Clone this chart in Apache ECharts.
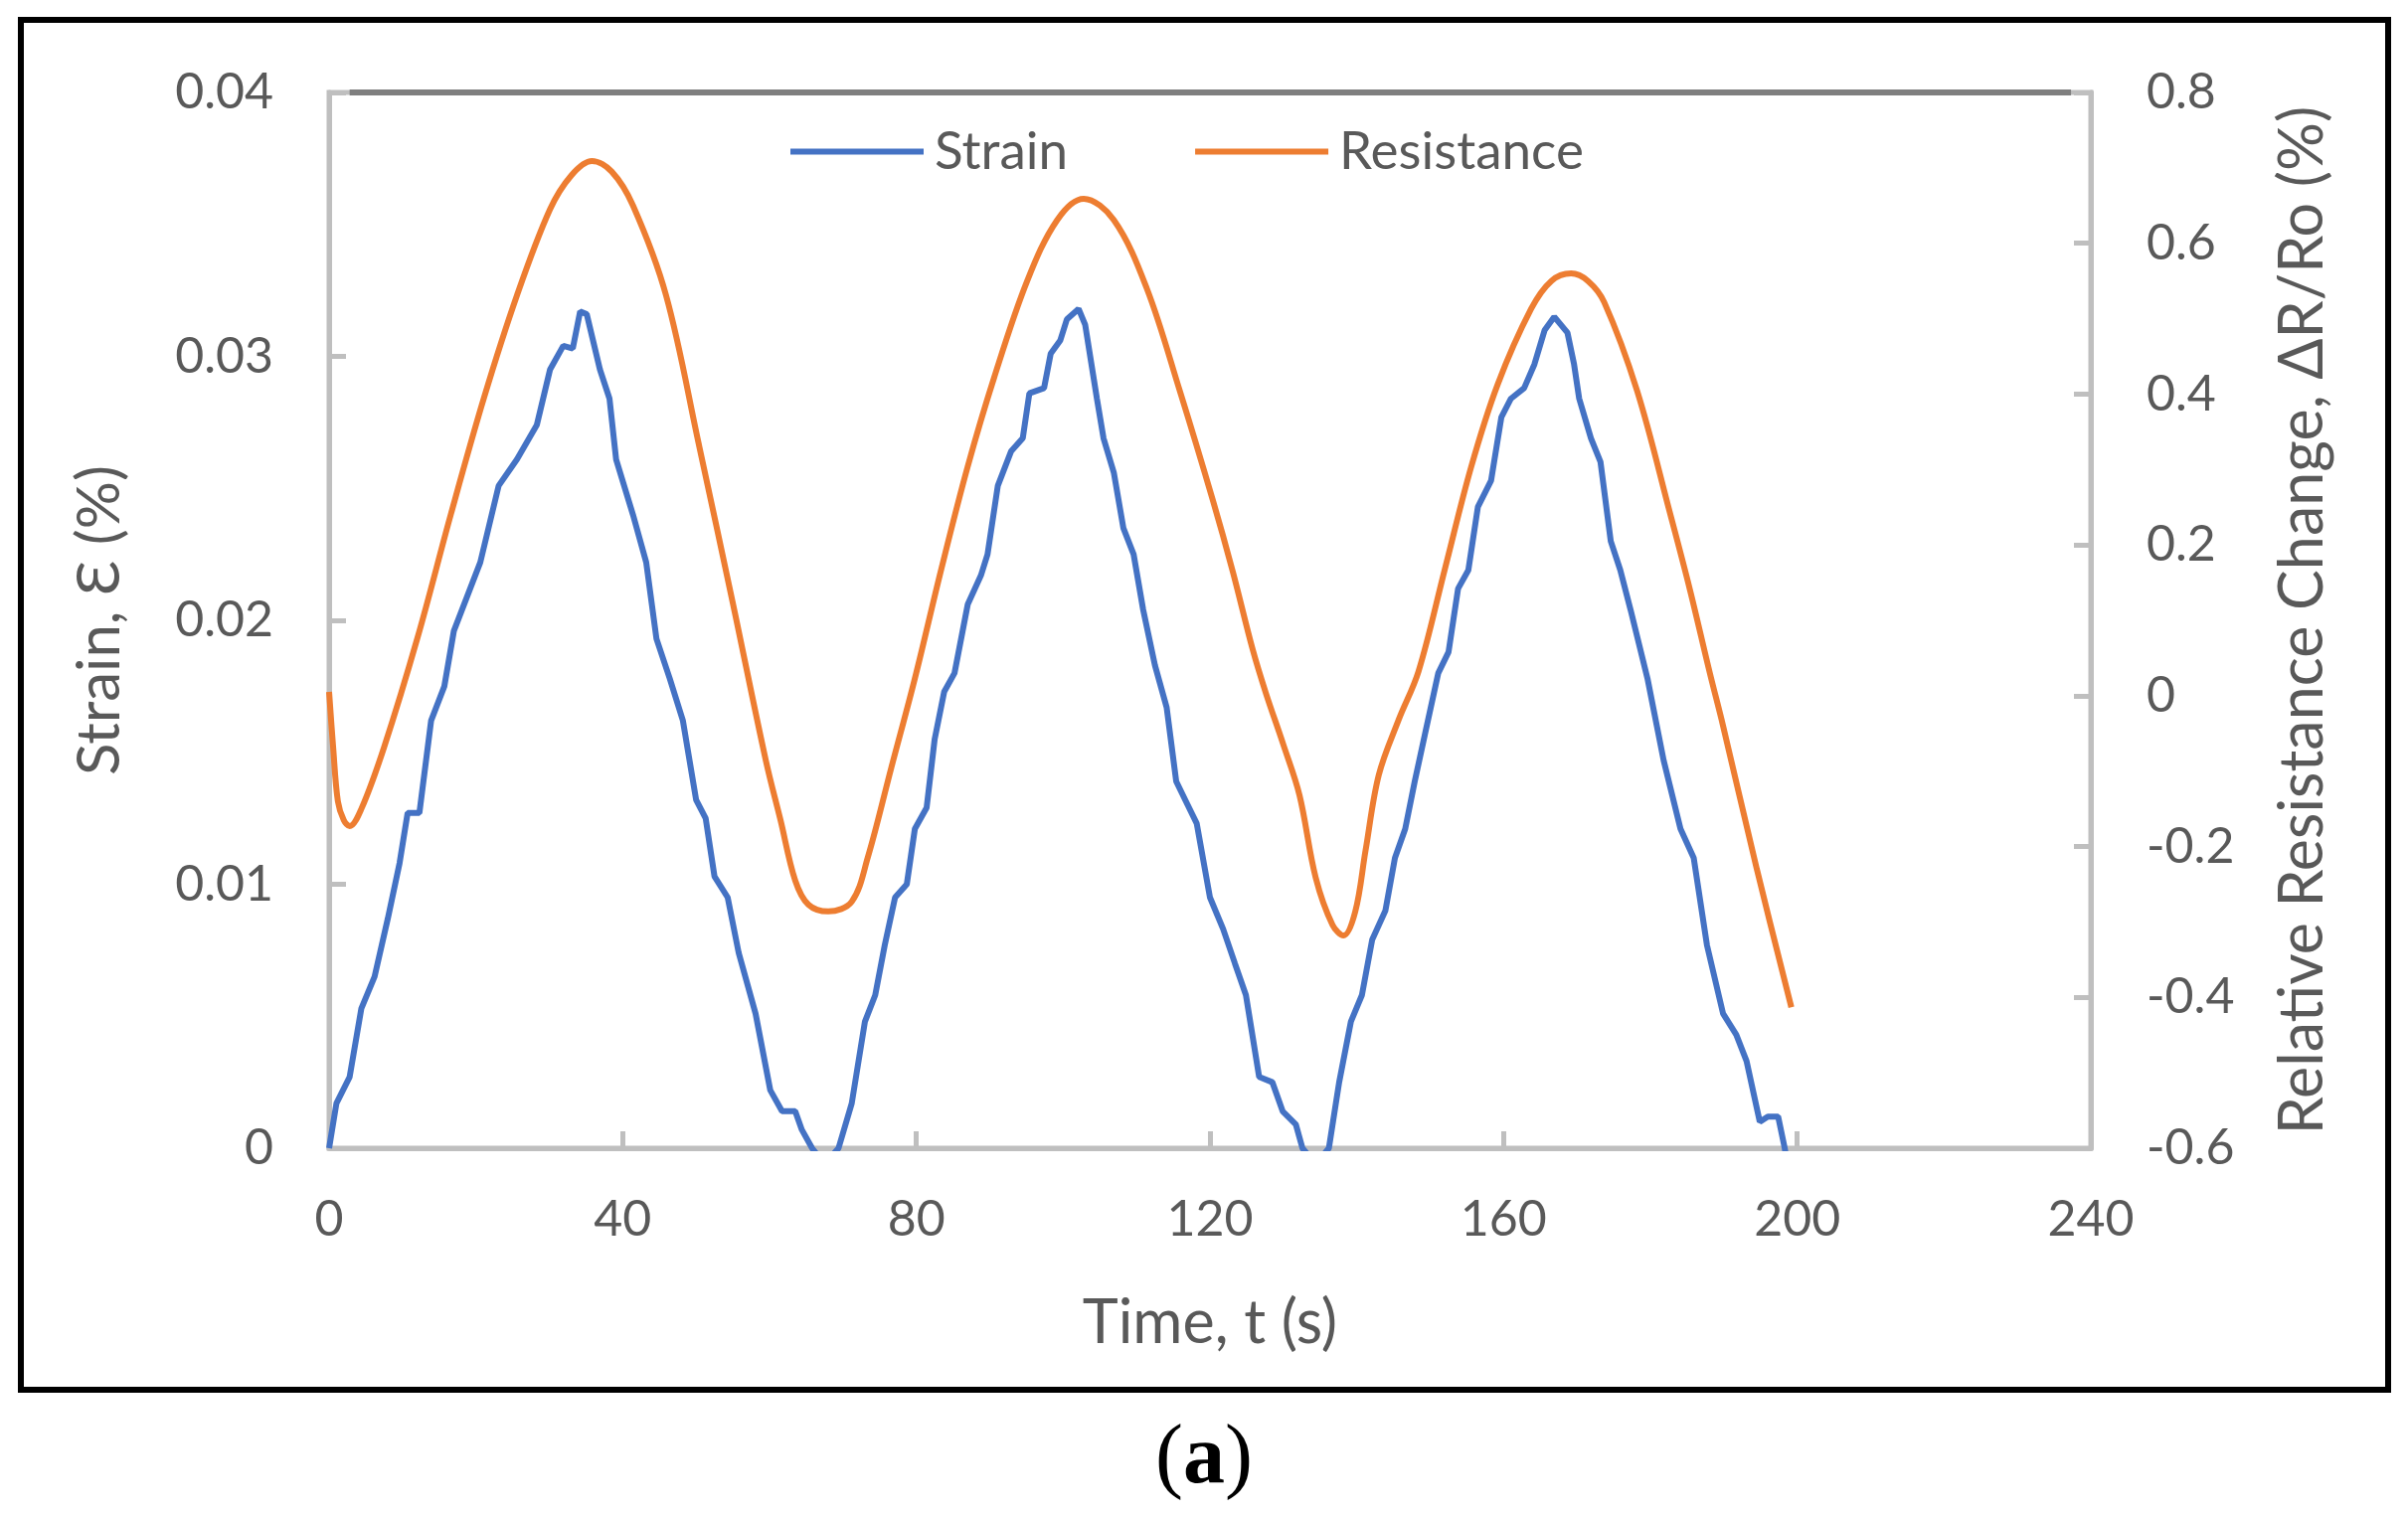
<!DOCTYPE html>
<html>
<head>
<meta charset="utf-8">
<script src="https://cdn.jsdelivr.net/npm/echarts@6/dist/echarts.min.js"></script>
<style>
html,body{margin:0;padding:0;background:#fff;}
#c{width:2422px;height:1528px;}
</style>
</head>
<body>
<div id="c"></div>
<script>
// ---- data ----
var seriesNames = ['Strain', 'Resistance'];
var xTicks = { min: 0, max: 240, interval: 40 };
var strainTicks = { min: 0, max: 0.04, interval: 0.01 };
var resTicks = { min: -0.6, max: 0.8, interval: 0.2 };

var strainT = [0,1.0,2.8,4.4,6.2,8.0,9.6,10.7,12.3,13.9,15.7,17.0,18.8,20.6,23.1,25.6,28.3,30.1,31.9,33.2,34.2,35.1,36.9,38.2,39.1,41.4,43.2,44.6,46.4,48.2,50.0,51.3,52.5,54.3,55.8,58.1,60.1,61.7,63.5,64.4,65.8,67.5,69.4,71.2,73.0,74.4,75.7,77.1,78.7,79.8,81.4,82.5,83.8,85.2,87.0,88.8,89.7,91.1,92.9,94.5,95.4,97.4,98.3,99.6,100.5,102.1,103.0,104.6,105.5,106.9,108.2,109.6,110.9,112.5,114.1,115.4,116.8,118.2,120.0,121.8,123.4,124.9,126.7,128.5,129.9,131.7,132.6,134.4,136.2,137.6,139.2,140.7,142.1,143.9,145.2,146.6,147.9,149.3,151.1,152.5,153.8,155.2,156.5,158.3,159.7,161.0,162.8,164.2,165.6,166.9,168.7,169.6,170.3,171.9,173.2,174.6,175.9,177.3,179.6,181.8,184.1,185.9,187.7,189.9,191.7,193.1,194.9,196.0,197.4,198.3,198.6];
var strainV = [0,0.0017,0.0027,0.0053,0.0065,0.0087,0.0108,0.0127,0.0127,0.0162,0.0175,0.0196,0.0209,0.0222,0.0251,0.0261,0.0274,0.0295,0.0304,0.0303,0.0317,0.0316,0.0295,0.0284,0.0261,0.0240,0.0222,0.0193,0.0178,0.0162,0.0132,0.0125,0.0103,0.0095,0.0074,0.0051,0.0022,0.0014,0.0014,0.0007,0.0000,-0.0006,0.0000,0.0017,0.0048,0.0058,0.0077,0.0095,0.0100,0.0121,0.0129,0.0155,0.0173,0.0180,0.0206,0.0217,0.0225,0.0251,0.0264,0.0269,0.0286,0.0288,0.0301,0.0306,0.0314,0.0318,0.0312,0.0284,0.0269,0.0256,0.0235,0.0225,0.0204,0.0183,0.0167,0.0139,0.0131,0.0123,0.0095,0.0083,0.0070,0.0058,0.0027,0.0025,0.0014,0.0009,0.0000,-0.0006,0.0000,0.0025,0.0048,0.0058,0.0079,0.0090,0.0110,0.0121,0.0139,0.0157,0.0180,0.0188,0.0212,0.0219,0.0243,0.0253,0.0277,0.0284,0.0288,0.0297,0.0310,0.0315,0.0309,0.0297,0.0284,0.0269,0.0260,0.0230,0.0219,0.0204,0.0178,0.0147,0.0121,0.0110,0.0077,0.0051,0.0043,0.0033,0.0010,0.0012,0.0012,0.0000,-0.0005];

var resT = [0,0.55,1.2,2.0,2.8,4.4,7.5,12.05,16.6,21.1,25.6,30.1,33.0,35.8,38.5,41.4,45.9,50.4,55.0,59.5,61.5,63.5,65.3,68.0,71.2,73.4,76.6,79.8,83.4,87.0,90.6,95.1,99.2,102.8,106.9,111.4,115.9,120.4,123.1,125.8,127.6,130.0,132.2,134.4,136.7,138.2,139.8,141.2,143.0,145.7,148.4,152.0,155.6,159.2,163.75,166.5,169.2,171.5,173.7,178.2,182.7,185.4,188.1,189.9,194.5,199.2];
var resV = [0.005,-0.068,-0.140,-0.165,-0.173,-0.150,-0.068,0.077,0.241,0.395,0.531,0.645,0.690,0.709,0.695,0.650,0.531,0.332,0.123,-0.086,-0.165,-0.245,-0.277,-0.286,-0.273,-0.214,-0.095,0.023,0.168,0.304,0.422,0.550,0.631,0.659,0.631,0.540,0.404,0.259,0.165,0.062,0.004,-0.065,-0.132,-0.241,-0.304,-0.318,-0.286,-0.205,-0.105,-0.032,0.032,0.168,0.304,0.413,0.513,0.550,0.560,0.550,0.522,0.404,0.241,0.140,0.030,-0.040,-0.230,-0.413];

// the dark rule along the top of the plot (time range, at strain 0.04)
var topRuleT = [2.8, 237.3];
var topRuleV = [0.04, 0.04];

function pairs(a, b) { return a.map(function (v, i) { return [v, b[i]]; }); }

var gray = '#595959';
var axisGray = '#bfbfbf';
var font = 'Lato';

var chart = echarts.init(document.getElementById('c'), null, { renderer: 'canvas', devicePixelRatio: 1 });
chart.setOption({
  animation: false,
  backgroundColor: '#fff',
  textStyle: { fontFamily: font },
  title: {
    text: '{p|(}{a|a}{p|)}',
    left: 'center',
    top: 1422,
    textStyle: {
      fontWeight: 'normal',
      rich: {
        p: { fontFamily: 'Liberation Serif', fontSize: 84, fontWeight: 'normal', color: '#000' },
        a: { fontFamily: 'Liberation Serif', fontSize: 84, fontWeight: 'bold', color: '#000' }
      }
    }
  },
  graphic: [{
    type: 'rect',
    shape: { x: 21, y: 20, width: 2381, height: 1378 },
    style: { fill: 'none', stroke: '#000', lineWidth: 6 },
    silent: true
  }],
  legend: {
    data: seriesNames,
    left: 790,
    top: 121,
    itemWidth: 134,
    itemHeight: 6,
    itemGap: 128,
    icon: 'rect',
    textStyle: { fontSize: 53, color: gray, fontFamily: font, padding: [0, 0, 0, 6] }
  },
  grid: {
    left: 331, right: 319, top: 93, bottom: 373,
    show: true, borderColor: axisGray, borderWidth: 5, containLabel: false
  },
  xAxis: {
    type: 'value',
    min: xTicks.min, max: xTicks.max, interval: xTicks.interval,
    name: 'Time, t (s)',
    nameLocation: 'middle',
    nameGap: 146,
    nameTextStyle: { fontSize: 61, color: gray, fontFamily: font },
    axisLine: { show: true, lineStyle: { color: axisGray, width: 5 } },
    axisTick: { show: true, inside: true, length: 17, lineStyle: { color: axisGray, width: 5 } },
    axisLabel: { fontSize: 50, color: gray, margin: 47, fontFamily: font },
    splitLine: { show: false }
  },
  yAxis: [{
    type: 'value',
    position: 'left',
    min: strainTicks.min, max: strainTicks.max, interval: strainTicks.interval,
    name: 'Strain, \u0190 (%)',
    nameLocation: 'middle',
    nameGap: 200,
    nameTextStyle: { fontSize: 60, color: gray, fontFamily: font },
    axisLine: { show: true, lineStyle: { color: axisGray, width: 5 } },
    axisTick: { show: true, inside: true, length: 17, lineStyle: { color: axisGray, width: 5 } },
    axisLabel: { fontSize: 50, color: gray, margin: 56, fontFamily: font },
    splitLine: { show: false }
  }, {
    type: 'value',
    position: 'right',
    min: resTicks.min, max: resTicks.max, interval: resTicks.interval,
    name: 'Relative Resistance Change, \u0394R/Ro (%)',
    nameLocation: 'middle',
    nameGap: 183,
    nameTextStyle: { fontSize: 61, color: gray, fontFamily: font },
    axisLine: { show: true, lineStyle: { color: axisGray, width: 5 } },
    axisTick: { show: true, inside: true, length: 17, lineStyle: { color: axisGray, width: 5 } },
    axisLabel: { fontSize: 50, color: gray, margin: 56, fontFamily: font },
    splitLine: { show: false }
  }],
  series: [{
    name: seriesNames[0],
    type: 'line',
    yAxisIndex: 0,
    data: pairs(strainT, strainV),
    showSymbol: false, symbol: 'none',
    lineStyle: { color: '#4472C4', width: 6 },
    itemStyle: { color: '#4472C4' },
    z: 3
  }, {
    name: seriesNames[1],
    type: 'line',
    yAxisIndex: 1,
    data: pairs(resT, resV),
    smooth: 0.35,
    showSymbol: false, symbol: 'none',
    lineStyle: { color: '#ED7D31', width: 6 },
    itemStyle: { color: '#ED7D31' },
    z: 2
  }, {
    name: 'rule',
    type: 'line',
    yAxisIndex: 0,
    data: pairs(topRuleT, topRuleV),
    showSymbol: false, symbol: 'none',
    lineStyle: { color: '#7f7f7f', width: 6 },
    silent: true,
    z: 4
  }]
});
</script>
</body>
</html>
